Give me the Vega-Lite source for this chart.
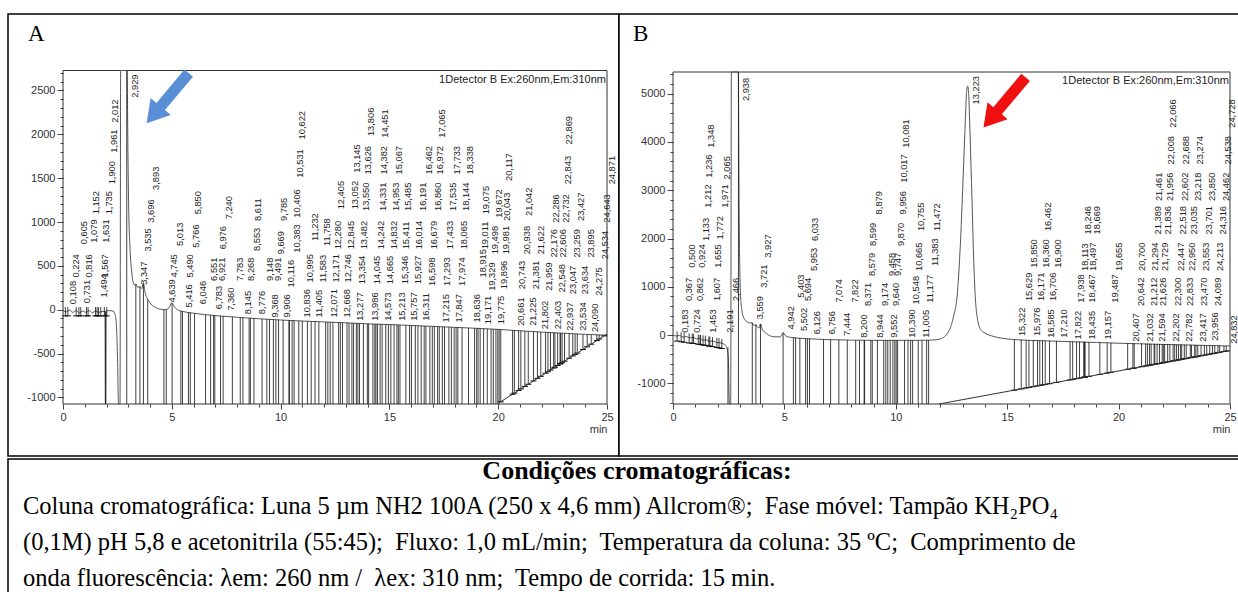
{
  "$schema": "https://vega.github.io/schema/vega-lite/v6.json",
  "padding": {"left": 7, "top": 13, "right": 0, "bottom": 0},
  "background": "white",
  "spacing": 0,
  "datasets": {
    "traceA": [
      {"t":0,"v":-10},{"t":0.15,"v":-25},{"t":0.3,"v":-5},{"t":0.45,"v":-30},{"t":0.6,"v":-10},{"t":0.75,"v":-35},{"t":0.9,"v":-15},{"t":1.05,"v":-30},{"t":1.2,"v":-10},{"t":1.35,"v":-35},{"t":1.5,"v":-15},{"t":1.65,"v":-30},{"t":1.8,"v":-20},{"t":1.93,"v":-20},{"t":1.945,"v":-1075},{"t":1.965,"v":-1075},{"t":1.98,"v":-15},{"t":2.1,"v":-10},{"t":2.3,"v":-15},{"t":2.4,"v":-60},{"t":2.46,"v":-200},{"t":2.51,"v":-600},{"t":2.55,"v":-1075},{"t":2.62,"v":-1075},{"t":2.65,"v":2728},{"t":2.95,"v":2728},{"t":2.98,"v":1900},{"t":3.02,"v":1150},{"t":3.08,"v":700},{"t":3.15,"v":450},{"t":3.22,"v":320},{"t":3.3,"v":280},{"t":3.347,"v":295},{"t":3.44,"v":255},{"t":3.535,"v":265},{"t":3.62,"v":240},{"t":3.696,"v":300},{"t":3.77,"v":200},{"t":3.85,"v":140},{"t":3.95,"v":95},{"t":4.1,"v":50},{"t":4.3,"v":20},{"t":4.5,"v":5},{"t":4.7,"v":0},{"t":4.85,"v":15},{"t":5.0,"v":80},{"t":5.1,"v":40},{"t":5.25,"v":0},{"t":5.5,"v":-20},{"t":6,"v":-40},{"t":7,"v":-67},{"t":8,"v":-86},{"t":9,"v":-103},{"t":10,"v":-117},{"t":11,"v":-129},{"t":12,"v":-139},{"t":13,"v":-149},{"t":14,"v":-161},{"t":15,"v":-169},{"t":16,"v":-179},{"t":17,"v":-190},{"t":18,"v":-201},{"t":19,"v":-212},{"t":20,"v":-224},{"t":21,"v":-240},{"t":22,"v":-255},{"t":23,"v":-268},{"t":24,"v":-281},{"t":25,"v":-290}
    ],
    "baseA": [{"t":20.07,"v":-1057},{"t":25,"v":-278}],
    "peaksA": [
      {"t":0.108,"ly":63,"top":30,"bot":-70},
      {"t":0.224,"ly":367,"top":30,"bot":-70},
      {"t":0.605,"ly":747,"top":30,"bot":-70},
      {"t":0.731,"ly":75,"top":30,"bot":-70},
      {"t":0.816,"ly":367,"top":30,"bot":-70},
      {"t":1.079,"ly":765,"top":30,"bot":-70},
      {"t":1.152,"ly":1088,"top":30,"bot":-70},
      {"t":1.494,"ly":139,"top":30,"bot":-70},
      {"t":1.567,"ly":367,"top":30,"bot":-70},
      {"t":1.631,"ly":765,"top":30,"bot":-70},
      {"t":1.735,"ly":1088,"top":30,"bot":-70},
      {"t":1.9,"ly":1430,"top":30,"bot":-70},
      {"t":1.961,"ly":1790,"top":-20,"bot":-1075},
      {"t":2.012,"ly":2132,"top":30,"bot":-70},
      {"t":2.929,"ly":2417,"top":2728,"bot":-1075},
      {"t":3.347,"ly":284,"top":290,"bot":-1075},
      {"t":3.535,"ly":663,"top":262,"bot":-1075},
      {"t":3.696,"ly":993,"top":298,"bot":-1075},
      {"t":3.893,"ly":1366,"top":115,"bot":-1075},
      {"t":4.639,"ly":82,"top":0,"bot":-1075},
      {"t":4.745,"ly":367,"top":5,"bot":-1075},
      {"t":5.013,"ly":728,"top":75,"bot":-1075},
      {"t":5.416,"ly":25,"top":-12,"bot":-1075},
      {"t":5.49,"ly":367,"top":-16,"bot":-1075},
      {"t":5.766,"ly":708,"top":-30,"bot":-1075},
      {"t":5.85,"ly":1088,"top":-33,"bot":-1075},
      {"t":6.046,"ly":63,"top":-41,"bot":-1075},
      {"t":6.551,"ly":329,"top":-55,"bot":-1075},
      {"t":6.783,"ly":6,"top":-61,"bot":-1075},
      {"t":6.921,"ly":329,"top":-64,"bot":-1075},
      {"t":6.976,"ly":689,"top":-66,"bot":-1075},
      {"t":7.24,"ly":1031,"top":-72,"bot":-1075},
      {"t":7.36,"ly":-13,"top":-74,"bot":-1075},
      {"t":7.783,"ly":329,"top":-82,"bot":-1075},
      {"t":8.145,"ly":-51,"top":-88,"bot":-1075},
      {"t":8.268,"ly":329,"top":-90,"bot":-1075},
      {"t":8.553,"ly":670,"top":-95,"bot":-1075},
      {"t":8.611,"ly":1012,"top":-96,"bot":-1075},
      {"t":8.776,"ly":-51,"top":-99,"bot":-1075},
      {"t":9.148,"ly":329,"top":-105,"bot":-1075},
      {"t":9.368,"ly":-89,"top":-108,"bot":-1075},
      {"t":9.491,"ly":329,"top":-110,"bot":-1075},
      {"t":9.669,"ly":632,"top":-112,"bot":-1075},
      {"t":9.785,"ly":1012,"top":-114,"bot":-1075},
      {"t":9.906,"ly":-89,"top":-116,"bot":-1075},
      {"t":10.116,"ly":253,"top":-118,"bot":-1075},
      {"t":10.383,"ly":651,"top":-121,"bot":-1075},
      {"t":10.406,"ly":1050,"top":-121,"bot":-1075},
      {"t":10.531,"ly":1506,"top":-123,"bot":-1075},
      {"t":10.622,"ly":1942,"top":-124,"bot":-1075},
      {"t":10.836,"ly":-89,"top":-127,"bot":-1075},
      {"t":10.995,"ly":310,"top":-129,"bot":-1075},
      {"t":11.232,"ly":784,"top":-131,"bot":-1075},
      {"t":11.405,"ly":-89,"top":-133,"bot":-1075},
      {"t":11.583,"ly":310,"top":-135,"bot":-1075},
      {"t":11.758,"ly":727,"top":-137,"bot":-1075},
      {"t":12.071,"ly":-89,"top":-140,"bot":-1075},
      {"t":12.171,"ly":310,"top":-141,"bot":-1075},
      {"t":12.28,"ly":689,"top":-142,"bot":-1075},
      {"t":12.405,"ly":1145,"top":-143,"bot":-1075},
      {"t":12.668,"ly":-89,"top":-146,"bot":-1075},
      {"t":12.746,"ly":310,"top":-147,"bot":-1075},
      {"t":12.845,"ly":689,"top":-148,"bot":-1075},
      {"t":13.052,"ly":1145,"top":-150,"bot":-1075},
      {"t":13.145,"ly":1562,"top":-151,"bot":-1075},
      {"t":13.277,"ly":-127,"top":-152,"bot":-1075},
      {"t":13.354,"ly":291,"top":-153,"bot":-1075},
      {"t":13.482,"ly":689,"top":-155,"bot":-1075},
      {"t":13.55,"ly":1126,"top":-156,"bot":-1075},
      {"t":13.626,"ly":1543,"top":-157,"bot":-1075},
      {"t":13.806,"ly":1980,"top":-159,"bot":-1075},
      {"t":13.986,"ly":-127,"top":-160,"bot":-1075},
      {"t":14.045,"ly":291,"top":-161,"bot":-1075},
      {"t":14.242,"ly":689,"top":-163,"bot":-1075},
      {"t":14.331,"ly":1126,"top":-164,"bot":-1075},
      {"t":14.382,"ly":1543,"top":-164,"bot":-1075},
      {"t":14.451,"ly":1961,"top":-165,"bot":-1075},
      {"t":14.573,"ly":-127,"top":-166,"bot":-1075},
      {"t":14.665,"ly":291,"top":-166,"bot":-1075},
      {"t":14.832,"ly":689,"top":-167,"bot":-1075},
      {"t":14.953,"ly":1126,"top":-168,"bot":-1075},
      {"t":15.067,"ly":1543,"top":-169,"bot":-1075},
      {"t":15.213,"ly":-127,"top":-171,"bot":-1075},
      {"t":15.346,"ly":291,"top":-172,"bot":-1075},
      {"t":15.411,"ly":689,"top":-173,"bot":-1075},
      {"t":15.485,"ly":1126,"top":-174,"bot":-1075},
      {"t":15.757,"ly":-127,"top":-176,"bot":-1075},
      {"t":15.927,"ly":291,"top":-178,"bot":-1075},
      {"t":16.014,"ly":689,"top":-179,"bot":-1075},
      {"t":16.191,"ly":1126,"top":-181,"bot":-1075},
      {"t":16.311,"ly":-127,"top":-182,"bot":-1075},
      {"t":16.462,"ly":1543,"top":-184,"bot":-1075},
      {"t":16.598,"ly":272,"top":-186,"bot":-1075},
      {"t":16.679,"ly":689,"top":-187,"bot":-1075},
      {"t":16.86,"ly":1126,"top":-189,"bot":-1075},
      {"t":16.972,"ly":1543,"top":-190,"bot":-1075},
      {"t":17.065,"ly":1961,"top":-191,"bot":-1075},
      {"t":17.215,"ly":-146,"top":-192,"bot":-1075},
      {"t":17.293,"ly":272,"top":-193,"bot":-1075},
      {"t":17.433,"ly":689,"top":-195,"bot":-1075},
      {"t":17.535,"ly":1126,"top":-196,"bot":-1075},
      {"t":17.733,"ly":1543,"top":-198,"bot":-1075},
      {"t":17.847,"ly":-146,"top":-199,"bot":-1075},
      {"t":17.974,"ly":272,"top":-200,"bot":-1075},
      {"t":18.065,"ly":689,"top":-202,"bot":-1075},
      {"t":18.144,"ly":1126,"top":-203,"bot":-1075},
      {"t":18.338,"ly":1543,"top":-205,"bot":-1075},
      {"t":18.636,"ly":-146,"top":-208,"bot":-1075},
      {"t":18.915,"ly":367,"top":-211,"bot":-1075},
      {"t":19.011,"ly":689,"top":-212,"bot":-1075},
      {"t":19.075,"ly":1088,"top":-213,"bot":-1075},
      {"t":19.171,"ly":-165,"top":-214,"bot":-1075},
      {"t":19.329,"ly":215,"top":-216,"bot":-1075},
      {"t":19.498,"ly":632,"top":-218,"bot":-1075},
      {"t":19.672,"ly":1050,"top":-220,"bot":-1075},
      {"t":19.775,"ly":-165,"top":-221,"bot":-1075},
      {"t":19.896,"ly":234,"top":-222,"bot":-1075},
      {"t":19.981,"ly":632,"top":-223,"bot":-1075},
      {"t":20.043,"ly":1012,"top":-224,"bot":-1075},
      {"t":20.117,"ly":1468,"top":-226,"bot":-1050},
      {"t":20.661,"ly":-184,"top":-234,"bot":-964},
      {"t":20.743,"ly":234,"top":-235,"bot":-951},
      {"t":20.938,"ly":632,"top":-238,"bot":-920},
      {"t":21.042,"ly":1069,"top":-240,"bot":-903},
      {"t":21.225,"ly":-184,"top":-243,"bot":-875},
      {"t":21.381,"ly":234,"top":-245,"bot":-850},
      {"t":21.622,"ly":632,"top":-249,"bot":-812},
      {"t":21.802,"ly":-222,"top":-252,"bot":-783},
      {"t":21.959,"ly":215,"top":-254,"bot":-759},
      {"t":22.176,"ly":595,"top":-257,"bot":-724},
      {"t":22.286,"ly":993,"top":-259,"bot":-707},
      {"t":22.403,"ly":-222,"top":-260,"bot":-688},
      {"t":22.548,"ly":196,"top":-262,"bot":-665},
      {"t":22.606,"ly":595,"top":-263,"bot":-656},
      {"t":22.732,"ly":993,"top":-265,"bot":-636},
      {"t":22.843,"ly":1430,"top":-266,"bot":-619},
      {"t":22.869,"ly":1885,"top":-266,"bot":-615},
      {"t":22.937,"ly":-241,"top":-267,"bot":-604},
      {"t":23.047,"ly":177,"top":-269,"bot":-587},
      {"t":23.259,"ly":595,"top":-271,"bot":-553},
      {"t":23.427,"ly":1012,"top":-273,"bot":-527},
      {"t":23.534,"ly":-241,"top":-275,"bot":-510},
      {"t":23.634,"ly":177,"top":-276,"bot":-494},
      {"t":23.895,"ly":595,"top":-279,"bot":-453},
      {"t":24.09,"ly":-255,"top":-281,"bot":-422},
      {"t":24.275,"ly":158,"top":-283,"bot":-393},
      {"t":24.534,"ly":576,"top":-286,"bot":-352},
      {"t":24.643,"ly":993,"top":-287,"bot":-334},
      {"t":24.871,"ly":1430,"top":-289,"bot":-298}
    ],
    "traceB": [
      {"t":0,"v":0},{"t":0.15,"v":-20},{"t":0.3,"v":-10},{"t":0.45,"v":-45},{"t":0.6,"v":-30},{"t":0.75,"v":-60},{"t":0.9,"v":-50},{"t":1.05,"v":-80},{"t":1.2,"v":-70},{"t":1.35,"v":-105},{"t":1.5,"v":-100},{"t":1.65,"v":-130},{"t":1.8,"v":-125},{"t":1.95,"v":-155},{"t":2.1,"v":-160},{"t":2.3,"v":-195},{"t":2.4,"v":-240},{"t":2.48,"v":-450},{"t":2.53,"v":-1429},{"t":2.59,"v":-1429},{"t":2.62,"v":5450},{"t":2.93,"v":5450},{"t":2.97,"v":2500},{"t":3.01,"v":1100},{"t":3.08,"v":550},{"t":3.18,"v":350},{"t":3.32,"v":275},{"t":3.46,"v":250},{"t":3.559,"v":255},{"t":3.64,"v":190},{"t":3.721,"v":215},{"t":3.8,"v":160},{"t":3.87,"v":150},{"t":3.927,"v":230},{"t":4.0,"v":130},{"t":4.2,"v":30},{"t":4.5,"v":-35},{"t":4.8,"v":-40},{"t":4.9,"v":20},{"t":4.942,"v":50},{"t":5.05,"v":-15},{"t":5.3,"v":-50},{"t":6,"v":-75},{"t":7,"v":-95},{"t":8,"v":-105},{"t":9,"v":-110},{"t":10,"v":-110},{"t":11,"v":-110},{"t":11.6,"v":-105},{"t":12,"v":-80},{"t":12.4,"v":100},{"t":12.6,"v":400},{"t":12.75,"v":800},{"t":12.9,"v":1900},{"t":13.0,"v":3000},{"t":13.1,"v":4200},{"t":13.19,"v":5100},{"t":13.223,"v":5160},{"t":13.27,"v":5000},{"t":13.33,"v":4200},{"t":13.42,"v":2800},{"t":13.5,"v":1500},{"t":13.58,"v":700},{"t":13.68,"v":300},{"t":13.8,"v":120},{"t":14.0,"v":40},{"t":14.4,"v":-30},{"t":15.0,"v":-80},{"t":15.5,"v":-100},{"t":16,"v":-110},{"t":17,"v":-125},{"t":18,"v":-140},{"t":19,"v":-155},{"t":20,"v":-170},{"t":21,"v":-182},{"t":22,"v":-195},{"t":23,"v":-205},{"t":24,"v":-217},{"t":25,"v":-228}
    ],
    "baseB": [{"t":11.94,"v":-1429},{"t":25,"v":-319}],
    "peaksB": [
      {"t":0.183,"ly":48,"top":75,"bot":-125},
      {"t":0.367,"ly":704,"top":60,"bot":-140},
      {"t":0.5,"ly":1395,"top":50,"bot":-150},
      {"t":0.724,"ly":48,"top":35,"bot":-165},
      {"t":0.862,"ly":704,"top":28,"bot":-172},
      {"t":0.924,"ly":1395,"top":25,"bot":-175},
      {"t":1.133,"ly":1947,"top":10,"bot":-190},
      {"t":1.212,"ly":2638,"top":4,"bot":-196},
      {"t":1.236,"ly":3259,"top":2,"bot":-198},
      {"t":1.348,"ly":3880,"top":-6,"bot":-206},
      {"t":1.453,"ly":48,"top":-14,"bot":-214},
      {"t":1.607,"ly":704,"top":-28,"bot":-228},
      {"t":1.655,"ly":1395,"top":-32,"bot":-232},
      {"t":1.772,"ly":1982,"top":-41,"bot":-241},
      {"t":1.971,"ly":2638,"top":-57,"bot":-257},
      {"t":2.065,"ly":3224,"top":-65,"bot":-265},
      {"t":2.191,"ly":48,"top":-80,"bot":-280},
      {"t":2.466,"ly":704,"top":-250,"bot":-1429},
      {"t":2.938,"ly":4847,"top":5450,"bot":-1429},
      {"t":3.559,"ly":325,"top":250,"bot":-1429},
      {"t":3.721,"ly":980,"top":220,"bot":-1429},
      {"t":3.927,"ly":1602,"top":230,"bot":-1429},
      {"t":4.942,"ly":117,"top":50,"bot":-1429},
      {"t":5.403,"ly":773,"top":-50,"bot":-1429},
      {"t":5.502,"ly":83,"top":-53,"bot":-1429},
      {"t":5.694,"ly":704,"top":-60,"bot":-1429},
      {"t":5.953,"ly":1326,"top":-70,"bot":-1429},
      {"t":6.033,"ly":1947,"top":-73,"bot":-1429},
      {"t":6.126,"ly":14,"top":-76,"bot":-1429},
      {"t":6.756,"ly":14,"top":-90,"bot":-1429},
      {"t":7.074,"ly":670,"top":-96,"bot":-1429},
      {"t":7.444,"ly":-21,"top":-100,"bot":-1429},
      {"t":7.822,"ly":670,"top":-104,"bot":-1429},
      {"t":8.2,"ly":-55,"top":-106,"bot":-1429},
      {"t":8.371,"ly":600,"top":-107,"bot":-1429},
      {"t":8.579,"ly":1222,"top":-108,"bot":-1429},
      {"t":8.599,"ly":1844,"top":-108,"bot":-1429},
      {"t":8.879,"ly":2500,"top":-109,"bot":-1429},
      {"t":8.944,"ly":-55,"top":-109,"bot":-1429},
      {"t":9.174,"ly":600,"top":-110,"bot":-1429},
      {"t":9.458,"ly":1222,"top":-110,"bot":-1429},
      {"t":9.552,"ly":-55,"top":-110,"bot":-1429},
      {"t":9.64,"ly":600,"top":-110,"bot":-1429},
      {"t":9.747,"ly":1222,"top":-110,"bot":-1429},
      {"t":9.87,"ly":1844,"top":-110,"bot":-1429},
      {"t":9.956,"ly":2500,"top":-110,"bot":-1429},
      {"t":10.017,"ly":3155,"top":-110,"bot":-1429},
      {"t":10.081,"ly":3880,"top":-110,"bot":-1429},
      {"t":10.39,"ly":-55,"top":-110,"bot":-1429},
      {"t":10.548,"ly":635,"top":-110,"bot":-1429},
      {"t":10.665,"ly":1326,"top":-110,"bot":-1429},
      {"t":10.755,"ly":2154,"top":-110,"bot":-1429},
      {"t":11.005,"ly":-55,"top":-110,"bot":-1429},
      {"t":11.177,"ly":670,"top":-110,"bot":-1429},
      {"t":11.383,"ly":1429,"top":-109,"bot":-1429},
      {"t":11.472,"ly":2154,"top":-108,"bot":-1429},
      {"t":13.223,"ly":4778},
      {"t":15.322,"ly":-21,"top":-95,"bot":-1142},
      {"t":15.629,"ly":704,"top":-100,"bot":-1116},
      {"t":15.85,"ly":1395,"top":-103,"bot":-1097},
      {"t":15.976,"ly":-21,"top":-105,"bot":-1086},
      {"t":16.171,"ly":704,"top":-108,"bot":-1070},
      {"t":16.36,"ly":1395,"top":-111,"bot":-1053},
      {"t":16.462,"ly":2154,"top":-112,"bot":-1045},
      {"t":16.585,"ly":-55,"top":-114,"bot":-1034},
      {"t":16.706,"ly":704,"top":-116,"bot":-1024},
      {"t":16.9,"ly":1395,"top":-118,"bot":-1008},
      {"t":17.21,"ly":-55,"top":-123,"bot":-981},
      {"t":17.822,"ly":-90,"top":-132,"bot":-929},
      {"t":17.938,"ly":670,"top":-134,"bot":-919},
      {"t":18.113,"ly":1326,"top":-137,"bot":-904},
      {"t":18.246,"ly":2085,"top":-139,"bot":-893},
      {"t":18.435,"ly":-90,"top":-142,"bot":-877},
      {"t":18.467,"ly":670,"top":-142,"bot":-874},
      {"t":18.497,"ly":1326,"top":-143,"bot":-872},
      {"t":18.669,"ly":2085,"top":-145,"bot":-857},
      {"t":19.157,"ly":-90,"top":-152,"bot":-816},
      {"t":19.487,"ly":670,"top":-157,"bot":-788},
      {"t":19.655,"ly":1326,"top":-160,"bot":-773},
      {"t":20.407,"ly":-140,"top":-170,"bot":-709},
      {"t":20.642,"ly":600,"top":-173,"bot":-690},
      {"t":20.7,"ly":1326,"top":-174,"bot":-685},
      {"t":21.032,"ly":-140,"top":-178,"bot":-656},
      {"t":21.212,"ly":600,"top":-180,"bot":-641},
      {"t":21.294,"ly":1326,"top":-181,"bot":-634},
      {"t":21.389,"ly":2085,"top":-182,"bot":-626},
      {"t":21.461,"ly":2776,"top":-183,"bot":-620},
      {"t":21.594,"ly":-140,"top":-185,"bot":-609},
      {"t":21.626,"ly":600,"top":-185,"bot":-606},
      {"t":21.729,"ly":1326,"top":-186,"bot":-597},
      {"t":21.836,"ly":2085,"top":-188,"bot":-588},
      {"t":21.956,"ly":2776,"top":-189,"bot":-578},
      {"t":22.008,"ly":3535,"top":-190,"bot":-573},
      {"t":22.066,"ly":4295,"top":-191,"bot":-568},
      {"t":22.202,"ly":-140,"top":-192,"bot":-557},
      {"t":22.3,"ly":600,"top":-193,"bot":-549},
      {"t":22.447,"ly":1326,"top":-195,"bot":-536},
      {"t":22.518,"ly":2085,"top":-196,"bot":-530},
      {"t":22.602,"ly":2776,"top":-197,"bot":-523},
      {"t":22.688,"ly":3535,"top":-198,"bot":-516},
      {"t":22.782,"ly":-140,"top":-199,"bot":-508},
      {"t":22.833,"ly":600,"top":-200,"bot":-503},
      {"t":22.95,"ly":1326,"top":-201,"bot":-493},
      {"t":23.035,"ly":2085,"top":-202,"bot":-486},
      {"t":23.218,"ly":2776,"top":-204,"bot":-471},
      {"t":23.274,"ly":3535,"top":-205,"bot":-466},
      {"t":23.417,"ly":-140,"top":-206,"bot":-454},
      {"t":23.47,"ly":600,"top":-207,"bot":-449},
      {"t":23.553,"ly":1326,"top":-208,"bot":-442},
      {"t":23.701,"ly":2085,"top":-210,"bot":-430},
      {"t":23.85,"ly":2776,"top":-212,"bot":-417},
      {"t":23.956,"ly":-120,"top":-213,"bot":-408},
      {"t":24.089,"ly":600,"top":-214,"bot":-397},
      {"t":24.213,"ly":1326,"top":-216,"bot":-386},
      {"t":24.316,"ly":2085,"top":-217,"bot":-377},
      {"t":24.462,"ly":2776,"top":-219,"bot":-365},
      {"t":24.538,"ly":3535,"top":-220,"bot":-358},
      {"t":24.728,"ly":4295,"top":-222,"bot":-342},
      {"t":24.832,"ly":-180,"top":-223,"bot":-333}
    ]
  },
  "vconcat": [
    {
      "bounds": "flush",
      "spacing": 0,
      "hconcat": [
        {
          "width": 611,
          "height": 442,
          "title": {"text": "A", "anchor": "start", "frame": "group", "orient": "top", "baseline": "top", "offset": -32, "dx": 20, "font": "Liberation Serif", "fontSize": 23, "fontWeight": "normal", "color": "#000"},
          "resolve": {"axis": {"x": "independent", "y": "independent"}},
          "layer": [
            {
              "data": {"values": [{}]},
              "mark": {"type": "rect", "fillOpacity": 0, "stroke": "#333", "strokeWidth": 1},
              "encoding": {
                "x": {"datum": 0, "type": "quantitative", "scale": {"domain": [0, 25], "range": [55, 599], "nice": false, "zero": false},
                  "axis": {"orient": "bottom", "offset": -52, "values": [0, 5, 10, 15, 20, 25], "format": "d", "tickSize": 5, "labelPadding": 2, "title": "min", "titleAnchor": "end", "titleFont": "Liberation Sans", "titleFontSize": 11, "titleFontWeight": "normal", "titleColor": "#333", "titlePadding": 1}},
                "x2": {"datum": 25},
                "y": {"datum": -1075, "type": "quantitative", "scale": {"domain": [-1075, 2728], "range": [390, 56.5], "nice": false, "zero": false},
                  "axis": {"orient": "left", "offset": -55, "values": [-1000, -500, 0, 500, 1000, 1500, 2000, 2500], "format": "d", "tickSize": 6, "labelPadding": 2, "title": null}},
                "y2": {"datum": 2728}
              }
            },
            {
              "data": {"name": "traceA"},
              "mark": {"type": "line", "color": "#555", "strokeWidth": 1, "interpolate": "monotone"},
              "encoding": {
                "x": {"field": "t", "type": "quantitative", "scale": {"domain": [0, 25], "range": [55, 599], "nice": false, "zero": false},
                  "axis": {"orient": "bottom", "offset": -52, "values": [0,1,2,3,4,5,6,7,8,9,10,11,12,13,14,15,16,17,18,19,20,21,22,23,24,25], "labels": false, "tickSize": 3, "title": null}},
                "y": {"field": "v", "type": "quantitative", "scale": {"domain": [-1075, 2728], "range": [390, 56.5], "nice": false, "zero": false},
                  "axis": {"orient": "left", "offset": -55, "values": [-1000,-900,-800,-700,-600,-500,-400,-300,-200,-100,0,100,200,300,400,500,600,700,800,900,1000,1100,1200,1300,1400,1500,1600,1700,1800,1900,2000,2100,2200,2300,2400,2500,2600,2700], "labels": false, "tickSize": 3, "title": null}}
              }
            },
            {
              "data": {"name": "peaksA"},
              "mark": {"type": "rule", "color": "#111", "strokeWidth": 0.8},
              "encoding": {
                "x": {"field": "t", "type": "quantitative", "scale": {"domain": [0, 25], "range": [55, 599], "nice": false, "zero": false}, "axis": null},
                "y": {"field": "top", "type": "quantitative", "scale": {"domain": [-1075, 2728], "range": [390, 56.5], "nice": false, "zero": false}, "axis": null},
                "y2": {"field": "bot"}
              }
            },
            {
              "data": {"name": "peaksA"},
              "transform": [{"filter": "datum.bot > -1060"}],
              "mark": {"type": "point", "shape": "stroke", "size": 36, "filled": false, "strokeWidth": 1, "color": "#111", "opacity": 1},
              "encoding": {
                "x": {"field": "t", "type": "quantitative", "scale": {"domain": [0, 25], "range": [55, 599], "nice": false, "zero": false}, "axis": null},
                "y": {"field": "bot", "type": "quantitative", "scale": {"domain": [-1075, 2728], "range": [390, 56.5], "nice": false, "zero": false}, "axis": null}
              }
            },
            {
              "data": {"name": "baseA"},
              "mark": {"type": "line", "color": "#333", "strokeWidth": 1},
              "encoding": {
                "x": {"field": "t", "type": "quantitative", "scale": {"domain": [0, 25], "range": [55, 599], "nice": false, "zero": false}, "axis": null},
                "y": {"field": "v", "type": "quantitative", "scale": {"domain": [-1075, 2728], "range": [390, 56.5], "nice": false, "zero": false}, "axis": null}
              }
            },
            {
              "data": {"name": "peaksA"},
              "mark": {"type": "text", "angle": 270, "align": "left", "baseline": "middle", "dy": 8, "font": "Liberation Sans", "fontSize": 9.3, "color": "#222"},
              "encoding": {
                "x": {"field": "t", "type": "quantitative", "scale": {"domain": [0, 25], "range": [55, 599], "nice": false, "zero": false}, "axis": null},
                "y": {"field": "ly", "type": "quantitative", "scale": {"domain": [-1075, 2728], "range": [390, 56.5], "nice": false, "zero": false}, "axis": null},
                "text": {"field": "t", "type": "quantitative", "format": ".3f"}
              }
            },
            {
              "data": {"values": [{}]},
              "mark": {"type": "text", "text": "1Detector B Ex:260nm,Em:310nm", "align": "right", "baseline": "top", "dx": -1, "dy": 3, "font": "Liberation Sans", "fontSize": 11, "color": "#222"},
              "encoding": {
                "x": {"datum": 25, "type": "quantitative", "scale": {"domain": [0, 25], "range": [55, 599], "nice": false, "zero": false}, "axis": null},
                "y": {"datum": 2728, "type": "quantitative", "scale": {"domain": [-1075, 2728], "range": [390, 56.5], "nice": false, "zero": false}, "axis": null}
              }
            },
            {
              "data": {"values": [{}]},
              "mark": {"type": "point", "shape": "M-1,-0.17L0.33,-0.17L0.33,-0.4L1,0L0.33,0.4L0.33,0.17L-1,0.17Z", "size": 4300, "filled": true, "color": "#5a8fd8", "opacity": 1, "angle": 130, "strokeWidth": 0},
              "encoding": {
                "x": {"datum": 4.81, "type": "quantitative", "scale": {"domain": [0, 25], "range": [55, 599], "nice": false, "zero": false}, "axis": null},
                "y": {"datum": 2412, "type": "quantitative", "scale": {"domain": [-1075, 2728], "range": [390, 56.5], "nice": false, "zero": false}, "axis": null}
              }
            }
          ]
        },
        {
          "width": 620,
          "height": 442,
          "title": {"text": "B", "anchor": "start", "frame": "group", "orient": "top", "baseline": "top", "offset": -32, "dx": 14, "font": "Liberation Serif", "fontSize": 23, "fontWeight": "normal", "color": "#000"},
          "resolve": {"axis": {"x": "independent", "y": "independent"}},
          "layer": [
            {
              "data": {"values": [{}]},
              "mark": {"type": "rect", "fillOpacity": 0, "stroke": "#333", "strokeWidth": 1},
              "encoding": {
                "x": {"datum": 0, "type": "quantitative", "scale": {"domain": [0, 25], "range": [54, 611], "nice": false, "zero": false},
                  "axis": {"orient": "bottom", "offset": -52, "values": [0, 5, 10, 15, 20, 25], "format": "d", "tickSize": 5, "labelPadding": 2, "title": "min", "titleAnchor": "end", "titleFont": "Liberation Sans", "titleFontSize": 11, "titleFontWeight": "normal", "titleColor": "#333", "titlePadding": 1}},
                "x2": {"datum": 25},
                "y": {"datum": -1429, "type": "quantitative", "scale": {"domain": [-1429, 5450], "range": [390, 58], "nice": false, "zero": false},
                  "axis": {"orient": "left", "offset": -54, "values": [-1000, 0, 1000, 2000, 3000, 4000, 5000], "format": "d", "tickSize": 6, "labelPadding": 2, "title": null}},
                "y2": {"datum": 5450}
              }
            },
            {
              "data": {"name": "traceB"},
              "mark": {"type": "line", "color": "#555", "strokeWidth": 1, "interpolate": "monotone"},
              "encoding": {
                "x": {"field": "t", "type": "quantitative", "scale": {"domain": [0, 25], "range": [54, 611], "nice": false, "zero": false},
                  "axis": {"orient": "bottom", "offset": -52, "values": [0,1,2,3,4,5,6,7,8,9,10,11,12,13,14,15,16,17,18,19,20,21,22,23,24,25], "labels": false, "tickSize": 3, "title": null}},
                "y": {"field": "v", "type": "quantitative", "scale": {"domain": [-1429, 5450], "range": [390, 58], "nice": false, "zero": false},
                  "axis": {"orient": "left", "offset": -54, "values": [-1400,-1200,-1000,-800,-600,-400,-200,0,200,400,600,800,1000,1200,1400,1600,1800,2000,2200,2400,2600,2800,3000,3200,3400,3600,3800,4000,4200,4400,4600,4800,5000,5200,5400], "labels": false, "tickSize": 3, "title": null}}
              }
            },
            {
              "data": {"name": "peaksB"},
              "mark": {"type": "rule", "color": "#111", "strokeWidth": 0.8},
              "encoding": {
                "x": {"field": "t", "type": "quantitative", "scale": {"domain": [0, 25], "range": [54, 611], "nice": false, "zero": false}, "axis": null},
                "y": {"field": "top", "type": "quantitative", "scale": {"domain": [-1429, 5450], "range": [390, 58], "nice": false, "zero": false}, "axis": null},
                "y2": {"field": "bot"}
              }
            },
            {
              "data": {"name": "peaksB"},
              "transform": [{"filter": "datum.bot > -1420"}],
              "mark": {"type": "point", "shape": "stroke", "size": 36, "filled": false, "strokeWidth": 1, "color": "#111", "opacity": 1},
              "encoding": {
                "x": {"field": "t", "type": "quantitative", "scale": {"domain": [0, 25], "range": [54, 611], "nice": false, "zero": false}, "axis": null},
                "y": {"field": "bot", "type": "quantitative", "scale": {"domain": [-1429, 5450], "range": [390, 58], "nice": false, "zero": false}, "axis": null}
              }
            },
            {
              "data": {"name": "baseB"},
              "mark": {"type": "line", "color": "#333", "strokeWidth": 1},
              "encoding": {
                "x": {"field": "t", "type": "quantitative", "scale": {"domain": [0, 25], "range": [54, 611], "nice": false, "zero": false}, "axis": null},
                "y": {"field": "v", "type": "quantitative", "scale": {"domain": [-1429, 5450], "range": [390, 58], "nice": false, "zero": false}, "axis": null}
              }
            },
            {
              "data": {"name": "peaksB"},
              "mark": {"type": "text", "angle": 270, "align": "left", "baseline": "middle", "dy": 8, "font": "Liberation Sans", "fontSize": 9.3, "color": "#222"},
              "encoding": {
                "x": {"field": "t", "type": "quantitative", "scale": {"domain": [0, 25], "range": [54, 611], "nice": false, "zero": false}, "axis": null},
                "y": {"field": "ly", "type": "quantitative", "scale": {"domain": [-1429, 5450], "range": [390, 58], "nice": false, "zero": false}, "axis": null},
                "text": {"field": "t", "type": "quantitative", "format": ".3f"}
              }
            },
            {
              "data": {"values": [{}]},
              "mark": {"type": "text", "text": "1Detector B Ex:260nm,Em:310nm", "align": "right", "baseline": "top", "dx": -1, "dy": 3, "font": "Liberation Sans", "fontSize": 11, "color": "#222"},
              "encoding": {
                "x": {"datum": 25, "type": "quantitative", "scale": {"domain": [0, 25], "range": [54, 611], "nice": false, "zero": false}, "axis": null},
                "y": {"datum": 5450, "type": "quantitative", "scale": {"domain": [-1429, 5450], "range": [390, 58], "nice": false, "zero": false}, "axis": null}
              }
            },
            {
              "data": {"values": [{}]},
              "mark": {"type": "point", "shape": "M-1,-0.17L0.33,-0.17L0.33,-0.4L1,0L0.33,0.4L0.33,0.17L-1,0.17Z", "size": 4300, "filled": true, "color": "#f01010", "opacity": 1, "angle": 130, "strokeWidth": 0},
              "encoding": {
                "x": {"datum": 14.88, "type": "quantitative", "scale": {"domain": [0, 25], "range": [54, 611], "nice": false, "zero": false}, "axis": null},
                "y": {"datum": 4818, "type": "quantitative", "scale": {"domain": [-1429, 5450], "range": [390, 58], "nice": false, "zero": false}, "axis": null}
              }
            }
          ]
        }
      ]
    },
    {
      "width": 1231,
      "height": 140,
      "layer": [
        {
          "data": {"values": [{"txt": "Condições cromatográficas:"}]},
          "mark": {"type": "text", "font": "Liberation Serif", "fontSize": 26, "fontWeight": "bold", "align": "center", "baseline": "middle", "color": "#000"},
          "encoding": {
            "x": {"datum": 0.5, "type": "quantitative", "scale": {"domain": [0, 1], "range": [15, 1243]}, "axis": null},
            "y": {"datum": 0, "type": "quantitative", "scale": {"domain": [0, 3], "range": [12, 120]}, "axis": null},
            "text": {"field": "txt"}
          }
        },
        {
          "data": {"values": [
            {"line": 1, "txt": "Coluna cromatográfica: Luna 5 µm NH2 100A (250 x 4,6 mm) Allcrom®;\u00a0 Fase móvel: Tampão KH₂PO₄"},
            {"line": 2, "txt": "(0,1M) pH 5,8 e acetonitrila (55:45);\u00a0 Fluxo: 1,0 mL/min;\u00a0 Temperatura da coluna: 35 ºC;\u00a0 Comprimento de"},
            {"line": 3, "txt": "onda fluorescência: λem: 260 nm /\u00a0 λex: 310 nm;\u00a0 Tempo de corrida: 15 min."}
          ]},
          "mark": {"type": "text", "font": "Liberation Serif", "fontSize": 24.5, "align": "left", "baseline": "middle", "color": "#000"},
          "encoding": {
            "x": {"datum": 0, "type": "quantitative", "scale": {"domain": [0, 1], "range": [15, 1243]}, "axis": null},
            "y": {"field": "line", "type": "quantitative", "scale": {"domain": [0, 3], "range": [12, 120]}, "axis": null},
            "text": {"field": "txt"}
          }
        }
      ]
    }
  ],
  "config": {
    "view": {"stroke": "#000", "strokeWidth": 1.5, "fill": "white"},
    "locale": {"number": {"decimal": ",", "thousands": ".", "grouping": [3], "currency": ["", ""], "minus": "-"}},
    "axis": {"labelFont": "Liberation Sans", "labelFontSize": 11, "labelColor": "#333", "tickColor": "#444", "domain": false, "grid": false, "labelFlush": false},
    "text": {"font": "Liberation Sans"}
  }
}
